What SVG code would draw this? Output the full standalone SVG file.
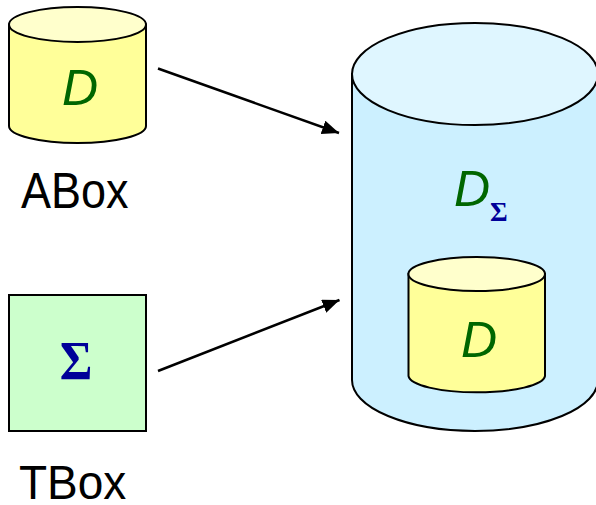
<svg xmlns="http://www.w3.org/2000/svg" width="596" height="505" viewBox="0 0 596 505">
  <defs>
    <marker id="arrowhead" markerUnits="userSpaceOnUse" markerWidth="18" markerHeight="16" refX="17" refY="7" orient="auto">
      <path d="M0,0 L17,7 L0,14 Z" fill="#000"/>
    </marker>
  </defs>
  <style>
    .outline { stroke: #000; stroke-width: 2; }
    .ybody { fill: #ffff99; }
    .ytop { fill: #ffffcc; }
    .bbody { fill: #ccf0ff; }
    .btop { fill: #dff6ff; }
    .dlabel { font-family: "Liberation Sans", Arial, sans-serif; font-style: italic; fill: #006600; }
    .sigma { font-family: "Liberation Serif", "Times New Roman", serif; font-weight: bold; fill: #000099; }
    .caption { font-family: "Liberation Sans", Arial, sans-serif; fill: #000; }
    .conn { stroke: #000; stroke-width: 2.5; fill: none; }
  </style>

  <!-- ABox store -->
  <g id="abox">
    <path class="ybody outline" d="M9,24.5 L9,126 A68.5,17 0 0 0 146,126 L146,24.5 Z"/>
    <ellipse class="ytop outline" cx="77.5" cy="24.5" rx="68.5" ry="17.5"/>
    <text class="dlabel" x="80" y="105" font-size="50" text-anchor="middle">D</text>
    <text class="caption" font-size="45" transform="translate(21,208) scale(1,1.09)">ABox</text>
  </g>

  <!-- TBox -->
  <g id="tbox">
    <rect class="outline" x="9" y="295" width="137" height="136" fill="#ccffcc"/>
    <text class="sigma" font-size="50" text-anchor="middle" transform="translate(76,379) scale(1,1.1)">Σ</text>
    <text class="caption" font-size="46" transform="translate(19,499) scale(1,1.06)">TBox</text>
  </g>

  <!-- Combined store D_Σ -->
  <g id="dsigma">
    <path class="bbody outline" d="M352,74 L352,380 A123,51 0 0 0 598,380 L598,74 Z"/>
    <ellipse class="btop outline" cx="475" cy="74" rx="123" ry="51"/>
    <text class="dlabel" x="454" y="206" font-size="50">D</text>
    <text class="sigma" x="490" y="221" font-size="27">Σ</text>
  </g>

  <!-- Inner D -->
  <g id="inner-d">
    <path class="ybody outline" d="M408.5,274 L408.5,376 A68.3,17 0 0 0 545,376 L545,274 Z"/>
    <ellipse class="ytop outline" cx="476.7" cy="274" rx="68.3" ry="17"/>
    <text class="dlabel" x="479" y="357" font-size="50" text-anchor="middle">D</text>
  </g>

  <!-- Connectors -->
  <g id="connectors">
    <line class="conn" x1="158" y1="68.5" x2="339" y2="133" marker-end="url(#arrowhead)"/>
    <line class="conn" x1="158" y1="371" x2="339.5" y2="300" marker-end="url(#arrowhead)"/>
  </g>
</svg>
